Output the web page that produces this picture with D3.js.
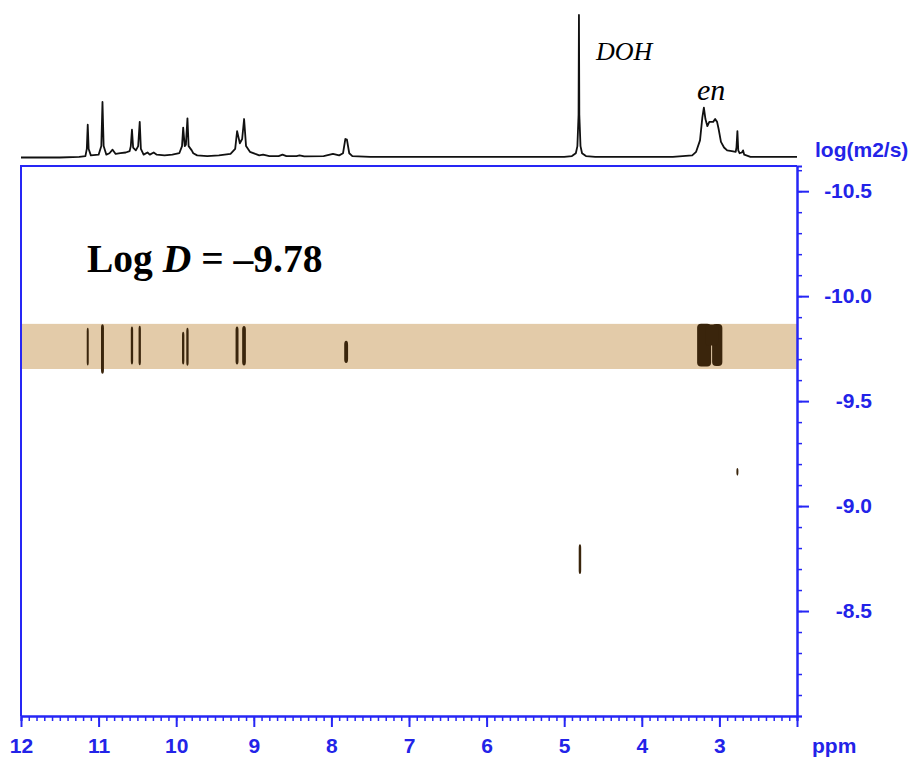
<!DOCTYPE html>
<html>
<head>
<meta charset="utf-8">
<script src="https://cdn.jsdelivr.net/npm/d3@7"></script>
<style>
	body { margin: 0; background: #fff; }
	.axis text { font-family: "Liberation Sans", Arial, sans-serif; font-weight: bold; font-size: 21px; fill: #2323e8; }
	.axis path, .axis line { stroke: #2626f5; stroke-width: 2; }
</style>
</head>
<body>
<div id="chart-area"></div>
<script>

// chemical shift ticks (ppm) and log D ticks
let ppmTicks = [12, 11, 10, 9, 8, 7, 6, 5, 4, 3];
let logDTicks = [-10.5, -10.0, -9.5, -9.0, -8.5];

// 1D proton trace: [ppm, intensity (% of DOH)]
let trace = [
	[12.0, 0], [11.5, 0], [11.25, 0.5], [11.17, 1], [11.152, 6], [11.14, 23], [11.128, 6], [11.1, 1.5],
	[11.0, 2], [10.965, 8], [10.95, 39], [10.935, 8], [10.9, 2], [10.86, 3], [10.82, 5.5], [10.78, 2.5],
	[10.72, 3], [10.65, 3.5], [10.6, 4.5], [10.585, 8], [10.57, 19.5], [10.555, 7], [10.52, 5],
	[10.49, 8], [10.47, 25], [10.455, 6], [10.42, 2], [10.37, 3.5], [10.34, 2], [10.29, 3.5], [10.25, 2],
	[10.15, 1.5], [10.05, 2], [9.96, 3], [9.925, 8], [9.91, 21], [9.89, 8], [9.875, 9], [9.855, 27.5],
	[9.84, 8], [9.8, 5], [9.78, 3], [9.73, 1.5], [9.6, 1], [9.45, 1.5], [9.3, 2.5], [9.24, 6],
	[9.215, 18.5], [9.18, 10], [9.15, 13], [9.125, 27], [9.1, 8], [9.05, 4], [8.98, 2.5], [8.93, 1.5],
	[8.88, 2], [8.8, 1], [8.68, 1], [8.63, 2], [8.58, 1], [8.45, 1], [8.41, 1.5], [8.35, 0.8],
	[8.1, 1], [7.98, 2.5], [7.9, 1.5], [7.85, 3], [7.82, 13], [7.8, 12.5], [7.77, 3], [7.73, 1],
	[7.5, 0.5], [5.5, 0.5], [5.0, 0.5], [4.9, 1], [4.85, 3], [4.83, 8], [4.815, 30], [4.81, 100],
	[4.805, 30], [4.79, 8], [4.77, 3], [4.72, 1], [4.6, 0.5], [3.6, 0.5], [3.35, 1.5], [3.3, 4],
	[3.25, 12], [3.22, 28], [3.2, 35], [3.18, 27], [3.155, 22], [3.13, 25], [3.08, 25], [3.055, 27],
	[3.03, 25], [3.01, 20], [2.98, 11], [2.94, 7], [2.9, 5], [2.84, 4.5], [2.79, 4], [2.78, 7],
	[2.768, 18.5], [2.757, 5], [2.74, 3], [2.71, 3.5], [2.695, 5], [2.68, 2], [2.6, 0.5], [2.0, 0.5]
];

// DOSY cross peaks: [ppm, log D, ppm half-width, log D half-width]
let crossPeaks = [
	[11.14, -9.760, 0.013, 0.090],
	[10.95, -9.748, 0.019, 0.118],
	[10.57, -9.765, 0.015, 0.090],
	[10.47, -9.765, 0.015, 0.094],
	[9.91, -9.753, 0.015, 0.078],
	[9.855, -9.759, 0.015, 0.091],
	[9.216, -9.765, 0.019, 0.090],
	[9.126, -9.764, 0.024, 0.094],
	[7.81, -9.734, 0.025, 0.053],
	[3.197, -9.767, 0.090, 0.102],
	[3.028, -9.767, 0.066, 0.100],
	[3.10, -9.815, 0.085, 0.050],
	[4.797, -8.747, 0.016, 0.071],
	[2.768, -9.163, 0.013, 0.018]
];

// highlighted diffusion band (log D)
let band = [-9.868, -9.653];

let width = 920, height = 760;

let svg = d3.select("#chart-area").append("svg")
	.attr("width", width)
	.attr("height", height);

// Scales
let x = d3.scaleLinear().domain([12, 2]).range([21, 797]);
let y = d3.scaleLinear().domain([-10.62, -8.0]).range([166, 716]);
let specY = d3.scaleLinear().domain([0, 100]).range([157.5, 15]);

// band
svg.append("rect")
	.attr("x", x(12))
	.attr("y", y(band[0]))
	.attr("width", x(2) - x(12))
	.attr("height", y(band[1]) - y(band[0]))
	.style("fill", "#e3cba9");

// cross peaks
svg.selectAll(".peak")
	.data(crossPeaks)
	.enter()
	.append("rect")
	.classed("peak", true)
	.attr("x", d => x(d[0] + d[2]))
	.attr("y", d => y(d[1] - d[3]))
	.attr("width", d => Math.max(2, x(d[0] - d[2]) - x(d[0] + d[2])))
	.attr("height", d => y(d[1] + d[3]) - y(d[1] - d[3]))
	.attr("rx", d => Math.min(4, Math.max(2, x(d[0] - d[2]) - x(d[0] + d[2])) / 2))
	.attr("ry", d => Math.min(4, (y(d[1] + d[3]) - y(d[1] - d[3])) / 2))
	.style("fill", "#3a250c");

// frame (left and top edges)
svg.append("path")
	.attr("d", "M" + x(2) + "," + y(-10.62) + "H" + x(12) + "V" + y(-8.0))
	.style("fill", "none")
	.style("stroke", "#2626f5")
	.style("stroke-width", 2);

// x axis: minor then major ticks
let xMinor = svg.append("g")
	.classed("axis", true)
	.attr("transform", "translate(0," + y(-8.0) + ")")
	.call(d3.axisBottom(x).tickValues(d3.range(20, 121).map(v => v / 10)).tickSize(5).tickFormat(""));
xMinor.selectAll("line").style("stroke-width", 1.5);

let xAxisGroup = svg.append("g")
	.classed("axis", true)
	.attr("transform", "translate(0," + y(-8.0) + ")")
	.call(d3.axisBottom(x)
		.tickValues(d3.range(2, 13))
		.tickSize(11)
		.tickSizeOuter(0)
		.tickFormat(d => ppmTicks.includes(d) ? d : ""));
xAxisGroup.selectAll("text").attr("y", 37).attr("dy", 0);

// y axis on the right
let yMinor = svg.append("g")
	.classed("axis", true)
	.attr("transform", "translate(" + x(2) + ",0)")
	.call(d3.axisRight(y).tickValues(d3.range(-106, -79).map(v => v / 10)).tickSize(5).tickFormat(""));
yMinor.selectAll("line").style("stroke-width", 1.5);

let yAxisGroup = svg.append("g")
	.classed("axis", true)
	.attr("transform", "translate(" + x(2) + ",0)")
	.call(d3.axisRight(y)
		.tickValues(logDTicks)
		.tickSize(12)
		.tickSizeOuter(0)
		.tickFormat(d => d.toFixed(1)));
yAxisGroup.selectAll("text").attr("x", 75).style("text-anchor", "end");

// axis titles
svg.append("text")
	.attr("x", 812).attr("y", 753)
	.style("font-family", "Liberation Sans, Arial, sans-serif")
	.style("font-weight", "bold").style("font-size", "21px")
	.style("fill", "#2323e8")
	.text("ppm");

svg.append("text")
	.attr("x", 815).attr("y", 157)
	.style("font-family", "Liberation Sans, Arial, sans-serif")
	.style("font-weight", "bold").style("font-size", "21px")
	.style("fill", "#2323e8")
	.text("log(m2/s)");

// 1D spectrum on top
let line = d3.line()
	.x(d => x(d[0]))
	.y(d => specY(d[1]));

svg.append("path")
	.datum(trace)
	.attr("d", line)
	.style("fill", "none")
	.style("stroke", "#111")
	.style("stroke-width", 1.8)
	.style("stroke-linejoin", "round");

// annotations
svg.append("text")
	.attr("x", 596).attr("y", 60)
	.style("font-family", "Liberation Serif, Times New Roman, serif")
	.style("font-style", "italic").style("font-size", "26px")
	.text("DOH");

svg.append("text")
	.attr("x", 697).attr("y", 100)
	.style("font-family", "Liberation Serif, Times New Roman, serif")
	.style("font-style", "italic").style("font-size", "30px")
	.text("en");

let logD = svg.append("text")
	.attr("x", 87).attr("y", 272)
	.style("font-family", "Liberation Serif, Times New Roman, serif")
	.style("font-weight", "bold").style("font-size", "39.5px");
logD.append("tspan").text("Log ");
logD.append("tspan").style("font-style", "italic").text("D");
logD.append("tspan").text(" = \u20139.78");

</script>
</body>
</html>
